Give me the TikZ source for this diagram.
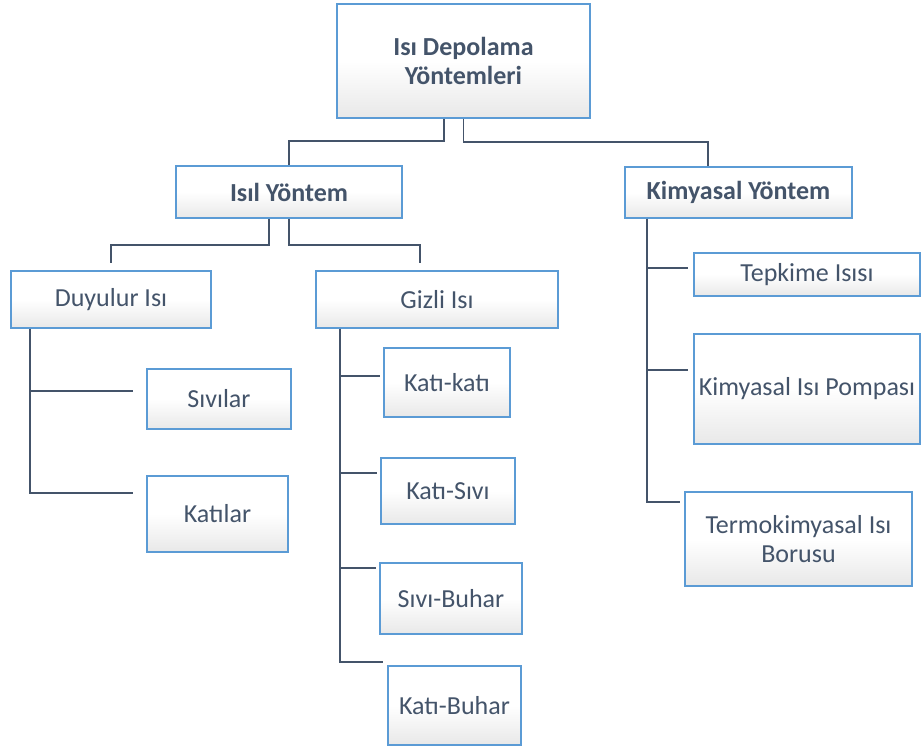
\documentclass[tikz,border=0pt]{standalone}
\usepackage{fontspec}
\setmainfont{Carlito}
\usetikzlibrary{positioning}

\definecolor{boxline}{RGB}{91,155,213}
\definecolor{txtcol}{RGB}{68,84,106}
\definecolor{lncol}{RGB}{68,84,106}

\begin{document}
\begin{tikzpicture}[
  x=1pt, y=-1pt,
  box/.style={draw=boxline, line width=1.8pt, top color=white, bottom color=black!9,
              middle color=white, align=center, text=txtcol, inner sep=1pt,
              font=\fontsize{26}{29}\selectfont},
  head/.style={box, font=\fontsize{26}{29}\selectfont\bfseries},
  conn/.style={draw=lncol, line width=1.6pt}
]
\useasboundingbox (0,0) rectangle (922,749);

% root and first level
\node[head, minimum width=253pt, minimum height=114pt] (root) at (463.5,61) {Isı Depolama\\Yöntemleri};
\node[head, minimum width=226pt, minimum height=52pt] (isil) at (289,192) {Isıl Yöntem};
\node[head, minimum width=227pt, minimum height=51pt] (kimya) at (738.5,192.5) {Kimyasal Yöntem};

% isil branch
\node[box, minimum width=200pt, minimum height=57pt] (duyulur) at (111,299.5) {Duyulur Isı};
\node[box, minimum width=242pt, minimum height=57pt] (gizli) at (437,299.5) {Gizli Isı};
\node[box, minimum width=144pt, minimum height=60pt] (sivilar) at (219,399) {Sıvılar};
\node[box, minimum width=141pt, minimum height=76pt] (katilar) at (217.5,514) {Katılar};
\node[box, minimum width=126pt, minimum height=69pt] (katikati) at (447,382.5) {Katı-katı};
\node[box, minimum width=134pt, minimum height=66pt] (katisivi) at (448,491) {Katı-Sıvı};
\node[box, minimum width=142pt, minimum height=71pt] (sivibuhar) at (451,598.5) {Sıvı-Buhar};
\node[box, minimum width=133pt, minimum height=79pt] (katibuhar) at (454.5,705.5) {Katı-Buhar};

% kimyasal branch
\node[box, minimum width=226pt, minimum height=43pt] (tepkime) at (807,274.5) {Tepkime Isısı};
\node[box, minimum width=226pt, minimum height=110pt, inner sep=0pt] (pompa) at (807,389) {Kimyasal Isı Pompası};
\node[box, minimum width=227pt, minimum height=94pt] (termo) at (798.5,539) {Termokimyasal Isı\\Borusu};

% branch ends
\coordinate (b-sivilar) at (133,391);
\coordinate (b-katilar) at (133,493);
\coordinate (b-katikati) at (380,376);
\coordinate (b-katisivi) at (377,473);
\coordinate (b-sivibuhar) at (376,568);
\coordinate (b-katibuhar) at (383,662);
\coordinate (b-tepkime) at (688,268);
\coordinate (b-pompa) at (688,370);
\coordinate (b-termo) at (680,502);

\draw[conn] ([xshift=-19.5pt]root.south) -- ++(0,22) -| (isil.north);
\draw[conn] (root.south) -- ++(0,23) -| ([xshift=-30.5pt]kimya.north);
\draw[conn, shorten >=7pt] ([xshift=-20pt]isil.south) -- ++(0,26) -| (duyulur.north);
\draw[conn, shorten >=7pt] (isil.south) -- ++(0,26) -| ([xshift=-17pt]gizli.north);

\draw[conn] ([xshift=20pt]duyulur.south west) |- (b-sivilar);
\draw[conn] ([xshift=20pt]duyulur.south west) |- (b-katilar);
\draw[conn] ([xshift=25pt]gizli.south west) |- (b-katikati);
\draw[conn] ([xshift=25pt]gizli.south west) |- (b-katisivi);
\draw[conn] ([xshift=25pt]gizli.south west) |- (b-sivibuhar);
\draw[conn] ([xshift=25pt]gizli.south west) |- (b-katibuhar);
\draw[conn] ([xshift=23pt]kimya.south west) |- (b-tepkime);
\draw[conn] ([xshift=23pt]kimya.south west) |- (b-pompa);
\draw[conn] ([xshift=23pt]kimya.south west) |- (b-termo);
\end{tikzpicture}
\end{document}
